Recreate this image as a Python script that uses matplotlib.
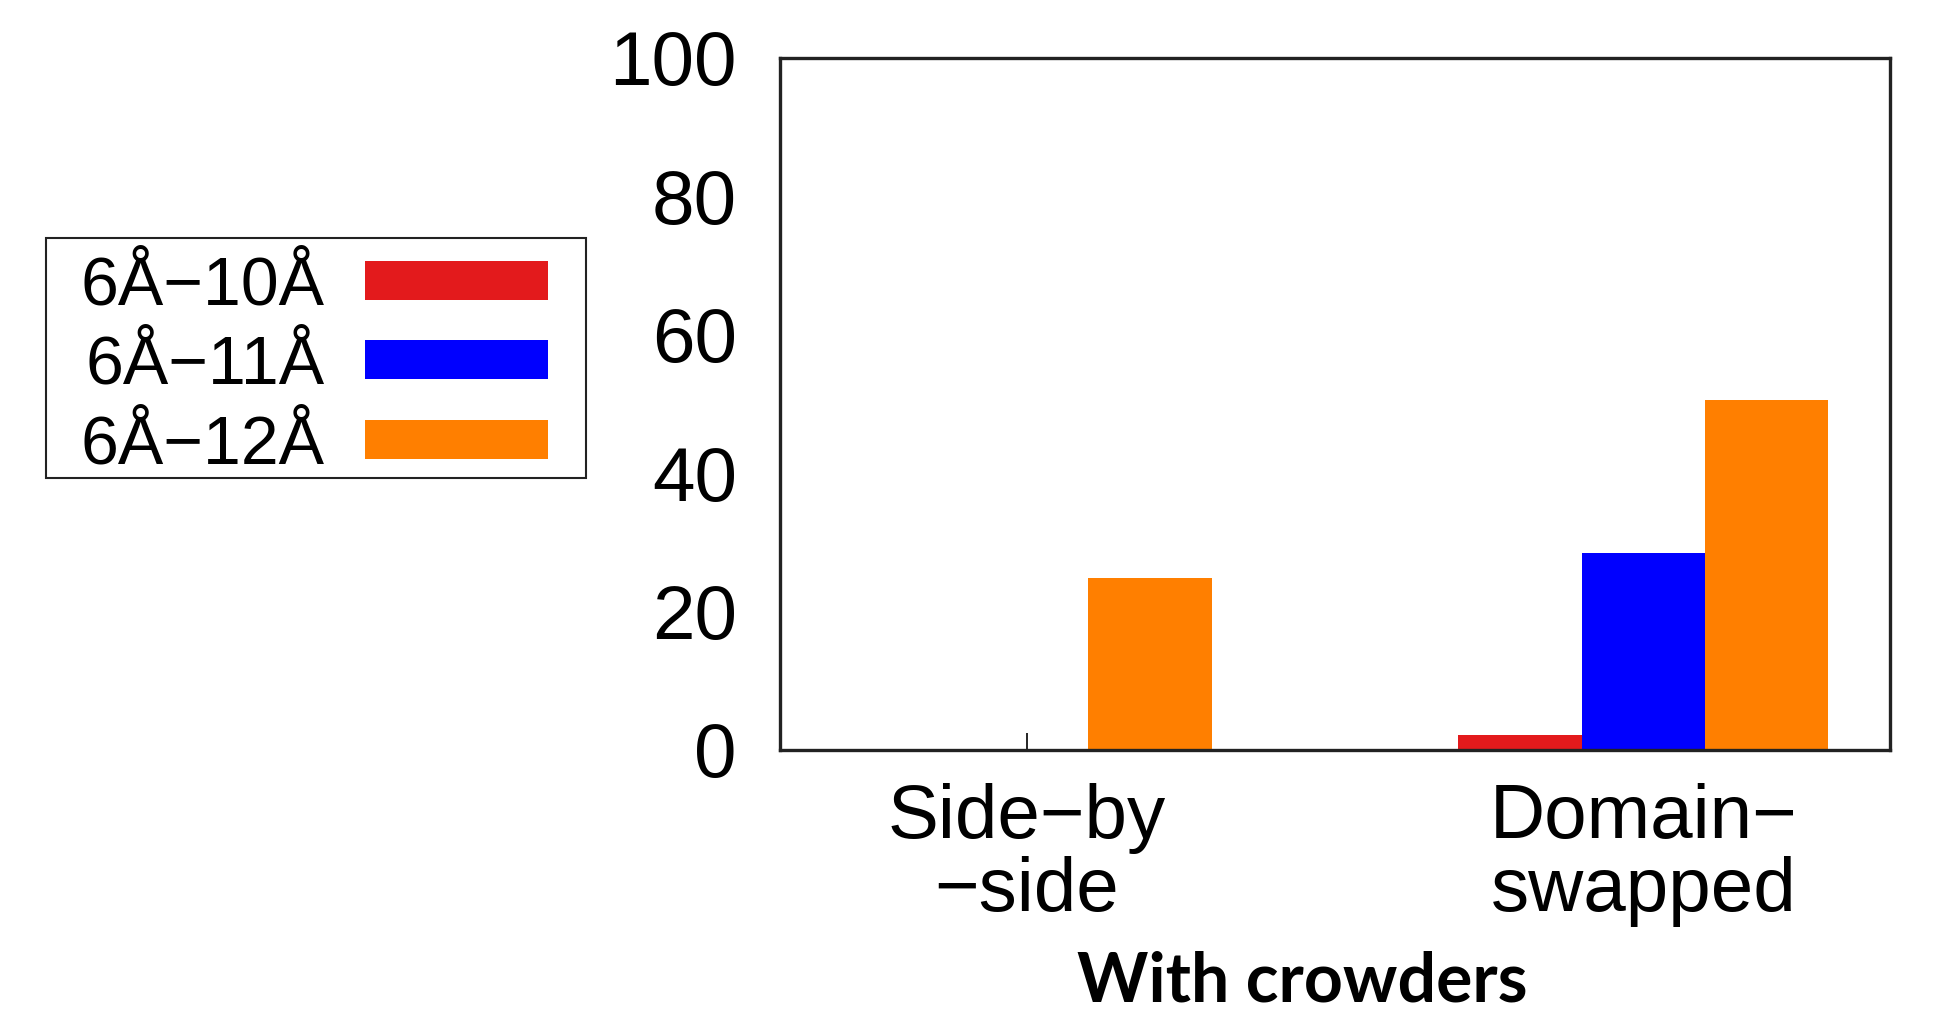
import matplotlib
matplotlib.use("Agg")
import matplotlib.pyplot as plt
from matplotlib.patches import Rectangle
import numpy as np

# bar heights per cutoff range, for each dimer type
groups = ["Side\u2212by\n\u2212side", "Domain\u2212\nswapped"]
ranges = ["6\u00c5\u221210\u00c5", "6\u00c5\u221211\u00c5", "6\u00c5\u221212\u00c5"]
vals_10 = [0.0, 2.2]
vals_11 = [0.2, 28.5]
vals_12 = [24.8, 50.6]
colors = ["#E31A1C", "#0000FF", "#FF7F00"]

plt.rcParams['font.family'] = ['Liberation Sans', 'DejaVu Sans']

W, H = 1936, 1015
fig = plt.figure(figsize=(W / 100, H / 100), dpi=100)
ax = fig.add_axes([780 / W, 1 - 750 / H, 1110 / W, 692 / H])

x = np.arange(len(groups))
width = 0.2
series = [vals_10, vals_11, vals_12]
for i, (vals, c, lab) in enumerate(zip(series, colors, ranges)):
    ax.bar(x + (i - 1) * width, vals, width, color=c, label=lab, linewidth=0)

ax.set_axisbelow(True)
ax.set_xlim(-0.4, 1.4)
ax.set_ylim(0, 100)
ax.set_yticks([0, 20, 40, 60, 80, 100])
ax.set_xticks(x)
ax.set_xticklabels(groups, fontsize=55, linespacing=1.03)
ax.tick_params(axis='y', length=0, pad=31, labelsize=55)
ax.tick_params(axis='x', direction='in', length=12, width=1.2, pad=24)
for sp in ax.spines.values():
    sp.set_linewidth(2.4)
    sp.set_color('#222222')

# legend entries without frame; the box is drawn separately
leg = ax.legend(loc='center', bbox_to_anchor=(314 / W, 1 - 366 / H),
                bbox_transform=fig.transFigure, borderaxespad=0, borderpad=0,
                fontsize=49, markerfirst=False, handlelength=2.68,
                handleheight=0.5, handletextpad=0.6, labelspacing=0.23,
                frameon=False)
fig.add_artist(Rectangle((46 / W, 1 - 478 / H), 540 / W, 240 / H,
                         transform=fig.transFigure, fill=False,
                         edgecolor='#222222', linewidth=1.5))

fig.text(1302 / W, 0.033, "With crowders", ha='center', va='center',
         fontsize=49, fontweight='bold', family=['Lato', 'DejaVu Sans'])

fig.savefig("out.png", dpi=100)
